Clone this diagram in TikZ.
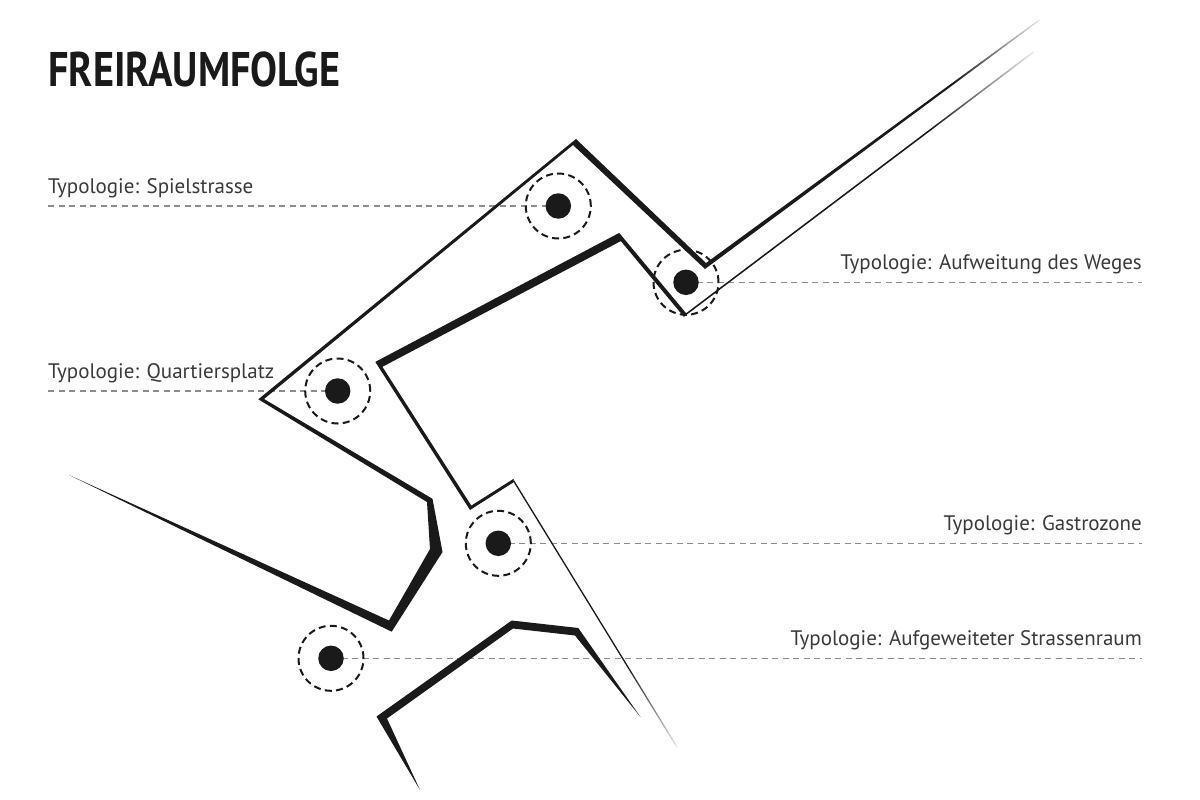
\documentclass[tikz,border=0pt]{standalone}
\usepackage{fontspec}
\newfontfamily\labelfont{PT Sans}
\newfontfamily\titlefont{PT Sans}
\definecolor{ink}{HTML}{1A1A1A}
\definecolor{labelgray}{HTML}{3A3A3A}
\definecolor{guide}{HTML}{8C8C8C}
\pgfdeclarehorizontalshading{fadeA}{100bp}{color(0bp)=(ink); color(25bp)=(ink); color(62bp)=(ink); color(75bp)=(ink!10); color(100bp)=(ink!10)}
\pgfdeclarehorizontalshading{fadeB}{100bp}{color(0bp)=(ink); color(25bp)=(ink); color(60bp)=(ink); color(75bp)=(ink!8); color(100bp)=(ink!8)}
\tikzset{
  shapefill/.style={fill=ink, draw=none},
  fadeshape/.style={shading=fadeA, draw=none},
  fadeshapeb/.style={shading=fadeB, draw=none},
  guideline/.style={draw=guide, line width=1.2pt, dash pattern=on 6pt off 4.5pt},
  ring/.style={circle, draw=ink, line width=2pt, dash pattern=on 7pt off 4.3pt, minimum size=65pt, inner sep=0pt, fill=none},
  dot/.style={circle, fill=ink, minimum size=25.5pt, inner sep=0pt},
  typlabel/.style={font=\labelfont\fontsize{21}{21}\selectfont, text=labelgray, inner sep=0pt},
}
\begin{document}
\begin{tikzpicture}[x=1pt,y=-1pt]
\useasboundingbox (0,0) rectangle (1200,800);
\fill[white] (0,0) rectangle (1200,800);

% title
\node[anchor=south west, inner sep=0pt, text=ink] (title) at (48.3,87.3)
  {\resizebox{291.7pt}{34.7pt}{\titlefont\bfseries FREIRAUMFOLGE}};

% labels
\node[typlabel, anchor=base west] (lsp) at (48,193) {Typologie: Spielstrasse};
\node[typlabel, anchor=base west] (lqu) at (48,378) {Typologie: Quartiersplatz};
\node[typlabel, anchor=base east] (lau) at (1142,269) {Typologie: Aufweitung des Weges};
\node[typlabel, anchor=base east] (lga) at (1142,530) {Typologie: Gastrozone};
\node[typlabel, anchor=base east] (lag) at (1142,645.5) {Typologie: Aufgeweiteter Strassenraum};

% circles (positions)
\coordinate (csp) at (558.3,206);
\coordinate (cau) at (686,282.3);
\coordinate (cqu) at (337.7,391);
\coordinate (cga) at (498.3,543.3);
\coordinate (cag) at (331,658.3);

% guide line ends
\coordinate (gsp) at (48,206);
\coordinate (gqu) at (48,391);
\coordinate (gau) at (1142,282.3);
\coordinate (gga) at (1142,543.3);
\coordinate (gag) at (1142,658.3);

\draw[guideline] (gsp) -- (csp);
\draw[guideline] (gqu) -- (cqu);
\draw[guideline] (cau) -- (gau);
\draw[guideline] (cga) -- (gga);
\draw[guideline] (cag) -- (gag);

% shape A (outer course)
\fill[shapefill] (706,263) -- (576,139) -- (258.3,399.3) -- (427,502) -- (430,549)
  -- (389,620.5) -- (69,475) -- (391.7,631.7) -- (442.5,552) -- (432.5,498.8)
  -- (264,399) -- (573,145) -- (705,269) -- cycle;
\shade[fadeshape] (706,263) -- (1039,19.5) -- (1039.7,20.5) -- (705,269) -- cycle;

% shape B (inner course)
\fill[shapefill] (686.1,313.2) -- (619.2,232.9) -- (375.3,361.9) -- (470,510)
  -- (513.7,482.2) -- (513.3,479) -- (471.3,505.6) -- (382.4,366.8)
  -- (620.8,241.1) -- (683.9,316.8) -- cycle;
\shade[fadeshapeb] (686.1,313.2) -- (1033,51.4) -- (1034,52.6) -- (683.9,316.8) -- cycle;
\shade[fadeshapeb] (513.3,479) -- (677.55,746.66) -- (676.45,747.34) -- (513.7,482.2) -- cycle;

% shape C (lower course)
\fill[shapefill] (420,790) -- (376.5,716.5) -- (511.7,620.5) -- (578.3,628) -- (640.5,717)
  -- (575,635.5) -- (513,628.5) -- (387,718.5) -- cycle;

% rings and dots
\node[ring] (rsp) at (csp) {};
\node[ring] (rau) at (cau) {};
\node[ring] (rqu) at (cqu) {};
\node[ring] (rga) at (cga) {};
\node[ring] (rag) at (cag) {};
\node[dot] (dsp) at (csp) {};
\node[dot] (dau) at (cau) {};
\node[dot] (dqu) at (cqu) {};
\node[dot] (dga) at (cga) {};
\node[dot] (dag) at (cag) {};
\end{tikzpicture}
\end{document}
